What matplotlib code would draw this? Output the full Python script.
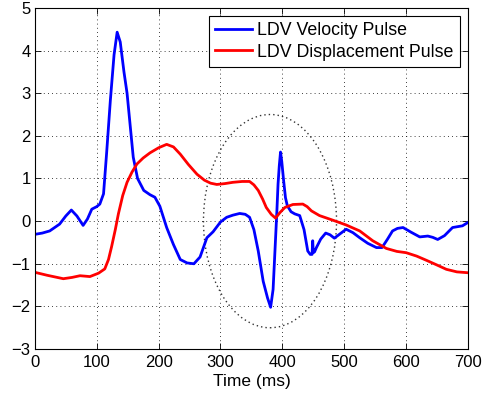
import matplotlib.pyplot as plt
from matplotlib.patches import Ellipse

plt.rcParams['font.family'] = ['Liberation Sans', 'DejaVu Sans']

# blue: LDV velocity pulse
t_vel = [0, 12, 24, 40, 50, 59, 68, 78, 85, 92, 100, 105, 111, 116, 122, 128, 133,
         138, 144, 149, 155, 159, 166, 176, 186, 194, 202, 213, 224, 235, 246, 257,
         267, 278, 288, 300, 310, 320, 331, 340, 347, 354, 361, 369, 376, 381, 385,
         388, 391, 393, 395, 397, 399, 402, 405, 408, 414, 420, 428, 435, 441, 445,
         448, 449, 450, 452, 455, 462, 470, 477, 484, 493, 503, 514, 525, 538, 552,
         561, 570, 578, 586, 595, 608, 622, 635, 643, 651, 662, 675, 691, 700]
v_vel = [-0.31, -0.28, -0.23, -0.07, 0.12, 0.26, 0.12, -0.1, 0.05, 0.28, 0.34, 0.4,
         0.64, 1.6, 2.83, 3.9, 4.43, 4.2, 3.5, 3.0, 2.1, 1.5, 1.0, 0.72, 0.62, 0.56,
         0.35, -0.15, -0.55, -0.9, -0.98, -1.0, -0.84, -0.39, -0.25, -0.02, 0.09,
         0.14, 0.18, 0.16, 0.09, -0.2, -0.7, -1.41, -1.8, -2.02, -1.6, -0.7, 0.2,
         0.87, 1.3, 1.62, 1.4, 0.95, 0.55, 0.36, 0.22, 0.17, 0.13, -0.2, -0.7, -0.78,
         -0.78, -0.46, -0.74, -0.72, -0.62, -0.42, -0.28, -0.32, -0.4, -0.3, -0.19,
         -0.27, -0.39, -0.52, -0.62, -0.62, -0.42, -0.23, -0.17, -0.15, -0.26, -0.37,
         -0.35, -0.38, -0.43, -0.34, -0.15, -0.11, -0.03]

# red: LDV displacement pulse
t_dis = [0, 20, 46, 60, 73, 89, 103, 113, 119, 124, 130, 135, 142, 149, 157, 165,
         175, 186, 200, 213, 224, 235, 248, 262, 274, 284, 294, 307, 320, 335, 347,
         354, 361, 368, 374, 382, 389, 396, 404, 417, 433, 440, 447, 460, 482, 503,
         525, 546, 568, 585, 600, 617, 633, 650, 665, 682, 700]
v_dis = [-1.2, -1.27, -1.35, -1.32, -1.28, -1.3, -1.22, -1.12, -0.9, -0.6, -0.2,
         0.17, 0.6, 0.91, 1.15, 1.34, 1.48, 1.6, 1.72, 1.8, 1.74, 1.57, 1.33, 1.1,
         0.96, 0.89, 0.86, 0.88, 0.91, 0.93, 0.93, 0.85, 0.72, 0.52, 0.32, 0.16,
         0.07, 0.2, 0.32, 0.39, 0.4, 0.34, 0.24, 0.13, 0.02, -0.09, -0.23, -0.46,
         -0.64, -0.71, -0.74, -0.82, -0.92, -1.03, -1.13, -1.19, -1.21]

xticks = [0, 100, 200, 300, 400, 500, 600, 700]
yticks = [-3, -2, -1, 0, 1, 2, 3, 4, 5]

fig = plt.figure(figsize=(4.84, 3.94), dpi=100)
ax = fig.add_axes([0.072, 0.114, 0.895, 0.866])

ax.plot(t_vel, v_vel, color='#0000ff', linewidth=2, label='LDV Velocity Pulse')
ax.plot(t_dis, v_dis, color='#ff0000', linewidth=2, label='LDV Displacement Pulse')

# dotted ellipse around the region of interest
ax.add_patch(Ellipse((380, 0), 215, 5, fill=False, edgecolor='#333333',
                     linestyle=(0, (1, 2.2)), linewidth=1))

ax.set_xlim(0, 700)
ax.set_ylim(-3, 5)
ax.set_xticks(xticks)
ax.set_yticks(yticks)
ax.tick_params(direction='in', top=True, right=True, labelsize=12, length=4,
               width=0.6)
ax.tick_params(axis='x', pad=4)
ax.tick_params(axis='y', pad=3)
ax.grid(True, color='black', linestyle=(0, (1, 4)), linewidth=0.6)
for s in ax.spines.values():
    s.set_linewidth(0.8)
ax.set_xlabel('Time (ms)', fontsize=12.5, labelpad=3)

leg = ax.legend(loc='upper right', fontsize=12.8, fancybox=False, framealpha=1,
                edgecolor='black', borderaxespad=0.45, handlelength=2.1,
                handletextpad=0.3, borderpad=0.35, labelspacing=0.25)
leg.get_frame().set_linewidth(0.8)

fig.savefig('out.png', dpi=100)
